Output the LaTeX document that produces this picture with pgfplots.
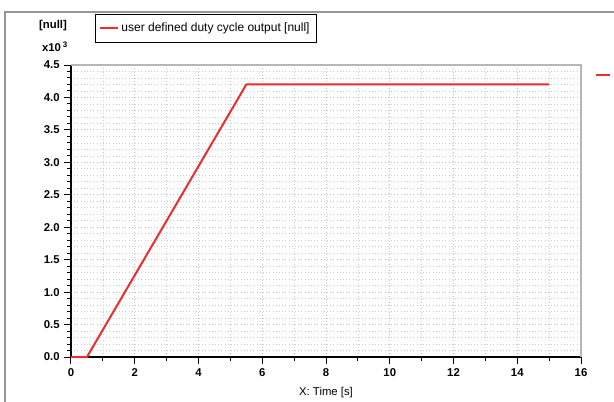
\documentclass[border=0pt]{standalone}
\usepackage{fontspec}
\setmainfont{Liberation Sans}
\usepackage{pgfplots}
\pgfplotsset{compat=1.18}
\definecolor{sigred}{RGB}{235,45,45}
\definecolor{framegray}{RGB}{150,150,150}
\definecolor{gridgray}{RGB}{195,195,195}
\begin{document}
\begin{tikzpicture}
\begin{scope}[x=0.75pt,y=0.75pt]
\useasboundingbox (0,0) rectangle (614,401);
\draw[framegray,line width=0.9pt] (5,-20) -- (5,389) -- (640,389);
\end{scope}
\begin{axis}[
  at={(53.25pt,33pt)}, anchor=south west,
  scale only axis, width=382.5pt, height=219pt,
  xmin=0, xmax=16, ymin=0, ymax=4.5,
  xtick={0,2,...,16}, minor x tick num=1,
  ytick={0,0.5,...,4.5}, minor y tick num=4,
  tick align=outside, tick pos=left,
  major tick length=5pt, minor tick length=3pt,
  every tick/.style={black, line width=0.75pt},
  axis x line*=bottom, axis y line*=left,
  axis line style={black, line width=0.8pt, -},
  grid=both,
  major grid style={gridgray, dotted, line width=0.6pt},
  minor grid style={gridgray!85, dotted, line width=0.5pt},
  ticklabel style={font=\fontsize{8.5}{9}\selectfont\bfseries},
  /pgf/number format/assume math mode=true,
  yticklabel style={/pgf/number format/.cd, fixed, fixed zerofill, precision=1},
  xlabel={X: Time [s]},
  xlabel style={font=\fontsize{8.5}{9}\selectfont, yshift=-1pt},
  legend style={at={(rel axis cs:0.047,1.175)}, anchor=north west, draw=black, line width=0.75pt,
    font=\fontsize{9}{10}\selectfont, inner xsep=3pt, inner ysep=4.5pt, row sep=0pt},
  legend cell align=left,
  legend image code/.code={\draw[sigred, line width=1.5pt] (0pt,0pt) -- (13pt,0pt);},
  clip=false,
]
\addplot[sigred, line width=1.5pt] coordinates {(0,0) (0.5,0) (5.5,4.2) (15,4.2)};
\addlegendentry{user defined duty cycle output [null]}
\draw[framegray!70, line width=0.8pt] (rel axis cs:0,1) -- (rel axis cs:1,1) -- (rel axis cs:1,0);
\end{axis}
\begin{scope}[x=0.75pt,y=0.75pt]
\node[font=\fontsize{8.5}{9}\selectfont\bfseries] at (53,375) {[null]};
\node[font=\fontsize{8.5}{9}\selectfont\bfseries] at (55,354) {x10\,\textsuperscript{3}};
\draw[sigred, line width=1.5pt] (596,326) -- (610,326);
\end{scope}
\end{tikzpicture}
\end{document}
